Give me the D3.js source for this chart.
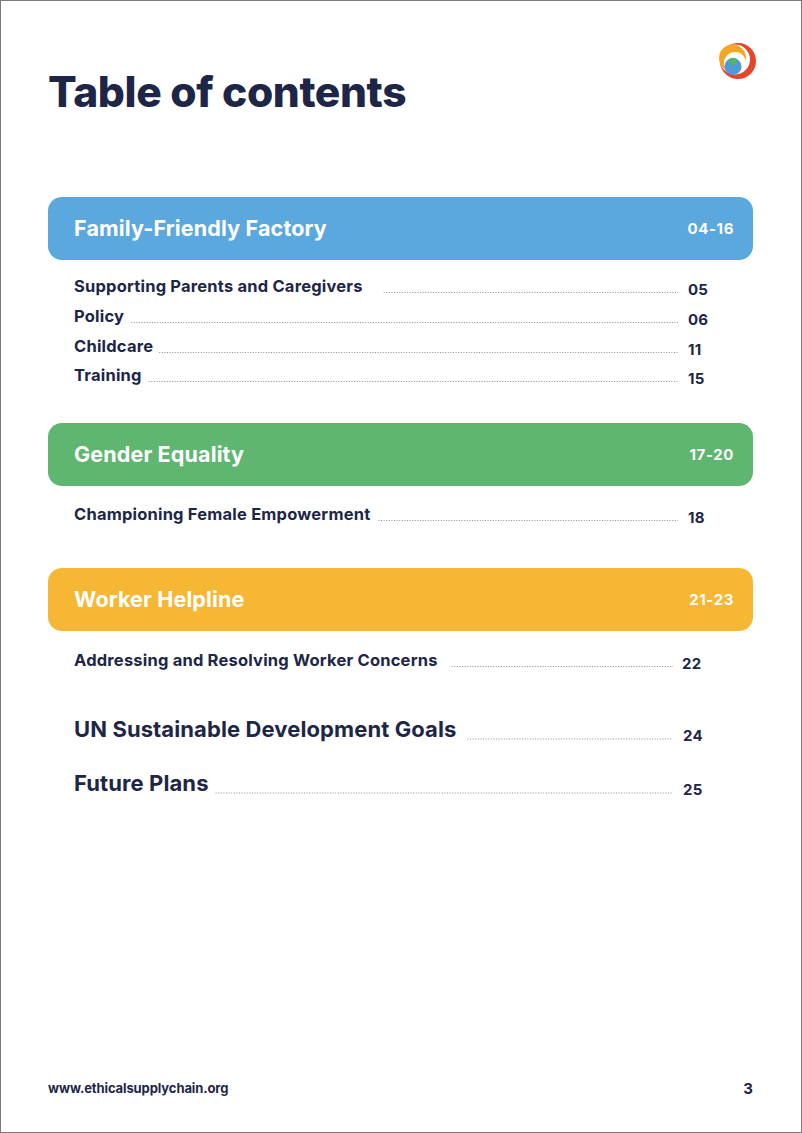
<!DOCTYPE html>
<html><head><meta charset="utf-8">
<script src="https://cdn.jsdelivr.net/npm/d3@7"></script>
<style>html,body{margin:0;padding:0;background:#fff}svg{display:block}</style>
</head><body>
<script>
// ---- data ----
const pageTitle = "Table of contents";
const sectionNames = ["Family-Friendly Factory", "Gender Equality", "Worker Helpline"];
const sectionRanges = ["04-16", "17-20", "21-23"];
const sectionColors = ["#5ba8de", "#5fb671", "#f6b734"];
const itemSection = [0, 0, 0, 0, 1, 2];
const itemNames = ["Supporting Parents and Caregivers", "Policy", "Childcare", "Training",
  "Championing Female Empowerment", "Addressing and Resolving Worker Concerns"];
const itemPages = ["05", "06", "11", "15", "18", "22"];
const extraNames = ["UN Sustainable Development Goals", "Future Plans"];
const extraPages = ["24", "25"];
const footerUrl = "www.ethicalsupplychain.org";
const pageNumber = "3";

// ---- layout ----
const W = 802, H = 1133, navy = "#1e2647";
const FONT = "Inter, 'Open Sans', sans-serif";
const svg = d3.select("body").append("svg").attr("width", W).attr("height", H);
svg.append("rect").attr("x", 0.5).attr("y", 0.5).attr("width", W - 1).attr("height", H - 1)
  .attr("fill", "#fff").attr("stroke", "#7a7a7a").attr("stroke-width", 1);

svg.append("text").attr("x", 48).attr("y", 107).attr("fill", navy)
  .attr("font-family", FONT).attr("font-weight", 800).attr("font-size", 42.5)
  .attr("letter-spacing", -0.4).text(pageTitle);

// logo
const logo = svg.append("g");
[[738, 61, 18, "#e5452a"], [735, 59.5, 15, "#fff"], [732.5, 58, 13.5, "#f6a623"],
 [735, 63, 11, "#fff"], [733, 66.5, 8.5, "#4f9bd9"], [733, 61.5, 3.8, "#57b26a"]]
  .forEach(([x, y, r, c]) => logo.append("circle").attr("cx", x).attr("cy", y).attr("r", r).attr("fill", c));

// section boxes
const boxTop = d3.scaleOrdinal().domain(d3.range(3)).range([197, 423, 568]);
const boxH = 63;
const xLeft = 48, xRight = 753;
const secG = svg.selectAll("g.sec").data(sectionNames).join("g").attr("class", "sec");
secG.append("rect").attr("x", xLeft).attr("y", (d, i) => boxTop(i)).attr("width", xRight - xLeft)
  .attr("height", boxH).attr("rx", 14).attr("fill", (d, i) => sectionColors[i]);
secG.append("text").attr("x", 74).attr("y", (d, i) => boxTop(i) + 39).attr("fill", "#fff")
  .attr("font-family", FONT).attr("font-weight", 700).attr("font-size", 21.5).attr("letter-spacing", 0.15)
  .text(d => d);
secG.append("text").attr("x", 734).attr("y", (d, i) => boxTop(i) + 36.5).attr("text-anchor", "end")
  .attr("fill", "#fff").attr("font-family", FONT).attr("font-weight", 700).attr("font-size", 15)
  .attr("letter-spacing", 0.6).text((d, i) => sectionRanges[i]);

// items
const itemY = [292, 322, 352, 381, 520, 666];
const itemGap = [21, 7, 6, 7, 8, 14];
const items = itemNames.map((n, i) => ({ name: n, page: itemPages[i], y: itemY[i], gap: itemGap[i],
  numX: i === 5 ? 682 : 688, dotEnd: i === 5 ? 673 : 678, size: 16.5, ls: 0.2, big: false }));
const extraY = [737, 791];
const extraGap = [11, 7];
extraNames.forEach((n, i) => items.push({ name: n, page: extraPages[i], y: extraY[i], gap: extraGap[i],
  numX: 683, dotEnd: 673, size: 22, ls: 0.1, big: true }));

const itG = svg.selectAll("g.item").data(items).join("g").attr("class", "item");
itG.append("text").attr("class", "name").attr("x", 74).attr("y", d => d.y).attr("fill", navy)
  .attr("font-family", FONT).attr("font-weight", 700).attr("font-size", d => d.size)
  .attr("letter-spacing", d => d.ls).text(d => d.name);
itG.append("text").attr("x", d => d.numX).attr("y", d => d.y + (d.big ? 4 : 2.5)).attr("fill", navy)
  .attr("font-family", FONT).attr("font-weight", 700).attr("font-size", 15).attr("letter-spacing", 0.2)
  .text(d => d.page);
itG.each(function (d) {
  const g = d3.select(this);
  const w = g.select("text.name").node().getComputedTextLength();
  const yy = d.y + (d.big ? 2 : 0.5);
  g.append("line").attr("x1", 74 + w + d.gap).attr("x2", d.dotEnd).attr("y1", yy).attr("y2", yy)
    .attr("stroke", "#8a8d99").attr("stroke-width", 1).attr("stroke-dasharray", "1,1.6");
});

// footer
svg.append("text").attr("x", 48).attr("y", 1093).attr("fill", navy).attr("font-family", FONT)
  .attr("font-weight", 700).attr("font-size", 13).attr("letter-spacing", -0.1).text(footerUrl);
svg.append("text").attr("x", 753).attr("y", 1094).attr("text-anchor", "end").attr("fill", navy)
  .attr("font-family", FONT).attr("font-weight", 700).attr("font-size", 15).text(pageNumber);
</script>
</body></html>
